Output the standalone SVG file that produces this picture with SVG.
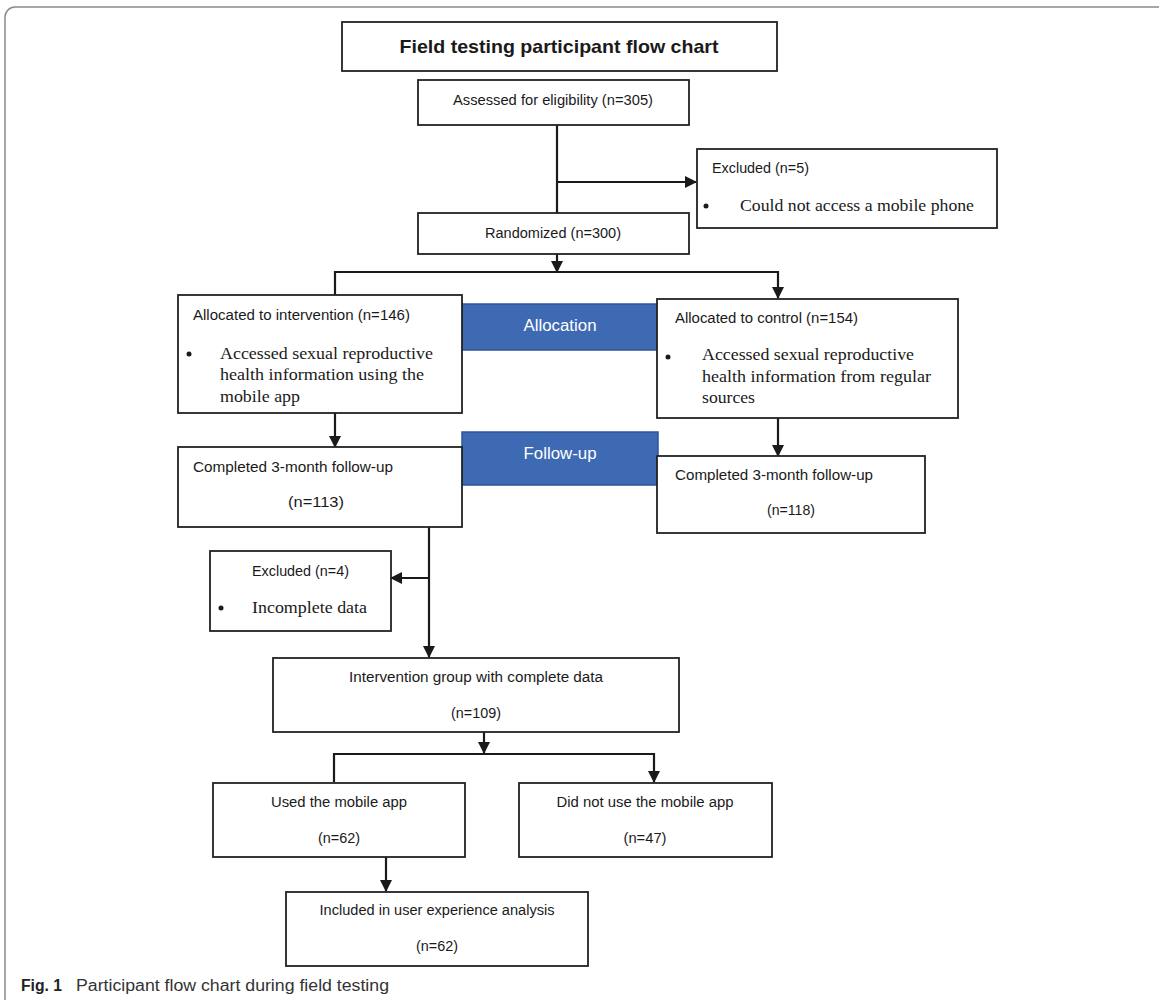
<svg xmlns="http://www.w3.org/2000/svg" width="1159" height="1000" viewBox="0 0 1159 1000">
<defs>
<marker id="ah" markerWidth="12" markerHeight="12" refX="11" refY="6" orient="auto" markerUnits="userSpaceOnUse">
<path d="M0,0 L12,6 L0,12 Z" fill="#1a1a1a"/>
</marker>
<style>
.box{fill:#fff;stroke:#222;stroke-width:1.8}
.bar{fill:#3d6ab3;stroke:#2e5597;stroke-width:1.5}
.t{font-family:"Liberation Sans",Arial,sans-serif;font-size:14px;fill:#1a1a1a}
.c{text-anchor:middle}
.w{fill:#fff;font-size:16px}
.s{font-family:"Liberation Serif","Times New Roman",serif;font-size:17px;fill:#1a1a1a}
.ln{fill:none;stroke:#1a1a1a;stroke-width:2.2}
.a{marker-end:url(#ah)}
</style>
</defs>
<rect x="5" y="7" width="1200" height="1050" rx="10" fill="#fff" stroke="#8a8a8a" stroke-width="1.5"/>

<g id="connectors">
<path class="ln" d="M557,125 V213"/>
<path class="ln a" d="M557,182 H696"/>
<path class="ln a" d="M557,254 V272"/>
<path class="ln a" d="M335,295 V272 H778 V298"/>
<path class="ln a" d="M335,413 V447"/>
<path class="ln a" d="M778,418 V456"/>
<path class="ln a" d="M429,527 V657"/>
<path class="ln a" d="M429,578 H391"/>
<path class="ln a" d="M484,732 V753"/>
<path class="ln a" d="M334,782 V754 H654 V782"/>
<path class="ln a" d="M386,857 V891"/>
</g>

<g id="title">
<rect class="box" x="342" y="22" width="435" height="49"/>
<text class="t c" x="559" y="53" style="font-weight:bold;font-size:19px" textLength="319" lengthAdjust="spacingAndGlyphs">Field testing participant flow chart</text>
</g>

<g id="assessed">
<rect class="box" x="418" y="80" width="271" height="45"/>
<text class="t c" x="553" y="105" textLength="200" lengthAdjust="spacingAndGlyphs">Assessed for eligibility (n=305)</text>
</g>

<g id="excluded1">
<rect class="box" x="697" y="149" width="300" height="79"/>
<text class="t" x="712" y="173" textLength="97" lengthAdjust="spacingAndGlyphs">Excluded (n=5)</text>
<circle cx="706" cy="206" r="2.5" fill="#1a1a1a"/>
<text class="s" x="740" y="211" textLength="234" lengthAdjust="spacingAndGlyphs">Could not access a mobile phone</text>
</g>

<g id="randomized">
<rect class="box" x="418" y="213" width="271" height="41"/>
<text class="t c" x="553" y="238" textLength="136" lengthAdjust="spacingAndGlyphs">Randomized (n=300)</text>
</g>

<g id="allocation">
<rect class="bar" x="462" y="304" width="195" height="46"/>
<text class="t c w" x="560" y="331" textLength="73" lengthAdjust="spacingAndGlyphs">Allocation</text>
</g>

<g id="followup">
<rect class="bar" x="462" y="432" width="196" height="53"/>
<text class="t c w" x="560" y="459" textLength="73" lengthAdjust="spacingAndGlyphs">Follow-up</text>
</g>

<g id="intervention">
<rect class="box" x="178" y="295" width="284" height="118"/>
<text class="t" x="193" y="320" textLength="217" lengthAdjust="spacingAndGlyphs">Allocated to intervention (n=146)</text>
<circle cx="189" cy="354" r="2.5" fill="#1a1a1a"/>
<text class="s" x="220" y="359" textLength="213" lengthAdjust="spacingAndGlyphs">Accessed sexual reproductive</text>
<text class="s" x="220" y="380" textLength="204" lengthAdjust="spacingAndGlyphs">health information using the</text>
<text class="s" x="220" y="402" textLength="80" lengthAdjust="spacingAndGlyphs">mobile app</text>
</g>

<g id="control">
<rect class="box" x="657" y="299" width="301" height="119"/>
<text class="t" x="675" y="323" textLength="183" lengthAdjust="spacingAndGlyphs">Allocated to control (n=154)</text>
<circle cx="668" cy="357" r="2.5" fill="#1a1a1a"/>
<text class="s" x="702" y="360" textLength="212" lengthAdjust="spacingAndGlyphs">Accessed sexual reproductive</text>
<text class="s" x="702" y="382" textLength="229" lengthAdjust="spacingAndGlyphs">health information from regular</text>
<text class="s" x="702" y="403" textLength="53" lengthAdjust="spacingAndGlyphs">sources</text>
</g>

<g id="completed-left">
<rect class="box" x="178" y="447" width="284" height="80"/>
<text class="t" x="193" y="472" textLength="200" lengthAdjust="spacingAndGlyphs">Completed 3-month follow-up</text>
<text class="t c" x="316" y="507" textLength="56" lengthAdjust="spacingAndGlyphs">(n=113)</text>
</g>

<g id="completed-right">
<rect class="box" x="657" y="456" width="268" height="77"/>
<text class="t" x="675" y="480" textLength="198" lengthAdjust="spacingAndGlyphs">Completed 3-month follow-up</text>
<text class="t c" x="791" y="515" textLength="48" lengthAdjust="spacingAndGlyphs">(n=118)</text>
</g>

<g id="excluded2">
<rect class="box" x="210" y="551" width="181" height="80"/>
<text class="t" x="252" y="576" textLength="97" lengthAdjust="spacingAndGlyphs">Excluded (n=4)</text>
<circle cx="221" cy="608" r="2.5" fill="#1a1a1a"/>
<text class="s" x="252" y="613" textLength="115" lengthAdjust="spacingAndGlyphs">Incomplete data</text>
</g>

<g id="complete-data">
<rect class="box" x="273" y="658" width="406" height="74"/>
<text class="t c" x="476" y="682" textLength="254" lengthAdjust="spacingAndGlyphs">Intervention group with complete data</text>
<text class="t c" x="476" y="718" textLength="50" lengthAdjust="spacingAndGlyphs">(n=109)</text>
</g>

<g id="used">
<rect class="box" x="213" y="783" width="252" height="74"/>
<text class="t c" x="339" y="807" textLength="136" lengthAdjust="spacingAndGlyphs">Used the mobile app</text>
<text class="t c" x="339" y="843" textLength="42" lengthAdjust="spacingAndGlyphs">(n=62)</text>
</g>

<g id="notused">
<rect class="box" x="519" y="783" width="253" height="74"/>
<text class="t c" x="645" y="807" textLength="177" lengthAdjust="spacingAndGlyphs">Did not use the mobile app</text>
<text class="t c" x="645" y="843" textLength="43" lengthAdjust="spacingAndGlyphs">(n=47)</text>
</g>

<g id="included">
<rect class="box" x="286" y="892" width="302" height="74"/>
<text class="t c" x="437" y="915" textLength="235" lengthAdjust="spacingAndGlyphs">Included in user experience analysis</text>
<text class="t c" x="437" y="951" textLength="42" lengthAdjust="spacingAndGlyphs">(n=62)</text>
</g>

<g id="caption">
<text x="21" y="991" style="font-family:'Liberation Sans',Arial,sans-serif;font-size:16px;font-weight:bold;fill:#222" textLength="41" lengthAdjust="spacingAndGlyphs">Fig. 1</text>
<text x="76" y="991" style="font-family:'Liberation Sans',Arial,sans-serif;font-size:16px;fill:#333" textLength="313" lengthAdjust="spacingAndGlyphs">Participant flow chart during field testing</text>
</g>
</svg>
